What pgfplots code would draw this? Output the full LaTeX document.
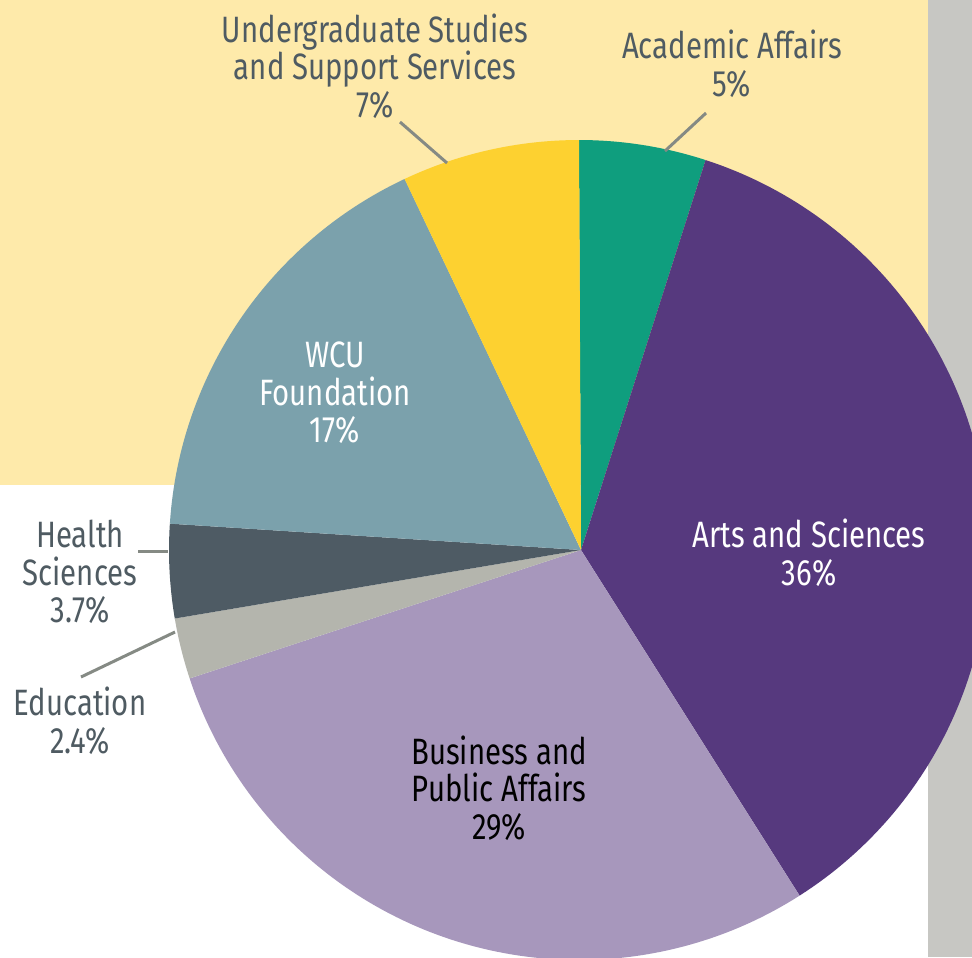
\documentclass[border=0pt]{standalone}
\usepackage{pgfplots}
\pgfplotsset{compat=1.18}
\usepackage{fontspec}
\setmainfont{Fira Sans}[FakeStretch=0.80]
\definecolor{bgyellow}{HTML}{FEEAAA}
\definecolor{graybar}{HTML}{C7C7C3}
\definecolor{cAcad}{HTML}{0F9E7E}
\definecolor{cArts}{HTML}{56397E}
\definecolor{cBus}{HTML}{A797BC}
\definecolor{cEdu}{HTML}{B4B5AD}
\definecolor{cHealth}{HTML}{4E5B64}
\definecolor{cWCU}{HTML}{7BA1AC}
\definecolor{cUnder}{HTML}{FDD130}
\definecolor{labgray}{HTML}{4F5B62}
\definecolor{leader}{HTML}{858A84}
\tikzset{lab/.style={font=\fontsize{11}{11.3}\selectfont, align=center, inner sep=0pt}}
% shares (percent), clockwise from 12 o'clock
\def\vAcad{5}
\def\vArts{36}
\def\vBus{29}
\def\vEdu{2.4}
\def\vHealth{3.7}
\def\vWCU{17}
\def\vUnder{7}
\pgfmathsetmacro\cA{\vAcad}
\pgfmathsetmacro\cB{\cA+\vArts}
\pgfmathsetmacro\cC{\cB+\vBus}
\pgfmathsetmacro\cD{\cC+\vEdu}
\pgfmathsetmacro\cE{\cD+\vHealth}
\pgfmathsetmacro\cF{\cE+\vWCU}
\pgfmathsetmacro\cG{\cF+\vUnder}
\pgfmathsetmacro\sc{360/\cG}
\begin{document}
\begin{tikzpicture}
\begin{axis}[
  scale only axis, width=291.6pt, height=287.1pt,
  xmin=0, xmax=972, ymin=0, ymax=957, y dir=reverse,
  hide axis, clip=true,
  every axis plot/.append style={draw=none},
]
% background panels
\addplot[fill=white] coordinates {(0,0) (972,0) (972,957) (0,957)} -- cycle;
\addplot[fill=bgyellow] coordinates {(0,0) (928,0) (928,485) (0,485)} -- cycle;
\addplot[fill=graybar] coordinates {(928,0) (972,0) (972,957) (928,957)} -- cycle;
% pie sectors
\addplot[fill=cAcad, domain=0:\cA, samples=30, variable=\t] ({579+410*cos(90-\sc*\t)}, {550-410*sin(90-\sc*\t)}) -- (axis cs:581,550) -- cycle;
\addplot[fill=cArts, domain=\cA:\cB, samples=120, variable=\t] ({579+410*cos(90-\sc*\t)}, {550-410*sin(90-\sc*\t)}) -- (axis cs:581,550) -- cycle;
\addplot[fill=cBus, domain=\cB:\cC, samples=100, variable=\t] ({579+410*cos(90-\sc*\t)}, {550-410*sin(90-\sc*\t)}) -- (axis cs:581,550) -- cycle;
\addplot[fill=cEdu, domain=\cC:\cD, samples=20, variable=\t] ({579+410*cos(90-\sc*\t)}, {550-410*sin(90-\sc*\t)}) -- (axis cs:581,550) -- cycle;
\addplot[fill=cHealth, domain=\cD:\cE, samples=20, variable=\t] ({579+410*cos(90-\sc*\t)}, {550-410*sin(90-\sc*\t)}) -- (axis cs:581,550) -- cycle;
\addplot[fill=cWCU, domain=\cE:\cF, samples=60, variable=\t] ({579+410*cos(90-\sc*\t)}, {550-410*sin(90-\sc*\t)}) -- (axis cs:581,550) -- cycle;
\addplot[fill=cUnder, domain=\cF:\cG, samples=30, variable=\t] ({579+410*cos(90-\sc*\t)}, {550-410*sin(90-\sc*\t)}) -- (axis cs:581,550) -- cycle;
% leader lines
\addplot[draw=leader, line width=0.9pt] coordinates {(706,113) (665,151)};
\addplot[draw=leader, line width=0.9pt] coordinates {(400,122) (447,163)};
\addplot[draw=leader, line width=0.9pt] coordinates {(138,551) (168,551)};
\addplot[draw=leader, line width=0.9pt] coordinates {(81,677) (175,632)};
% labels
\node[lab, text=labgray] at (axis cs:375,66) {Undergraduate Studies\\and Support Services\\7\%};
\node[lab, text=labgray] at (axis cs:732,64) {Academic Affairs\\5\%};
\node[lab, text=white] at (axis cs:335,393) {WCU\\Foundation\\17\%};
\node[lab, text=white] at (axis cs:809,553) {Arts and Sciences\\36\%};
\node[lab, text=black] at (axis cs:499,788) {Business and\\Public Affairs\\29\%};
\node[lab, text=labgray] at (axis cs:80,572) {Health\\Sciences\\3.7\%};
\node[lab, text=labgray] at (axis cs:80,721) {Education\\2.4\%};
\end{axis}
\end{tikzpicture}
\end{document}
